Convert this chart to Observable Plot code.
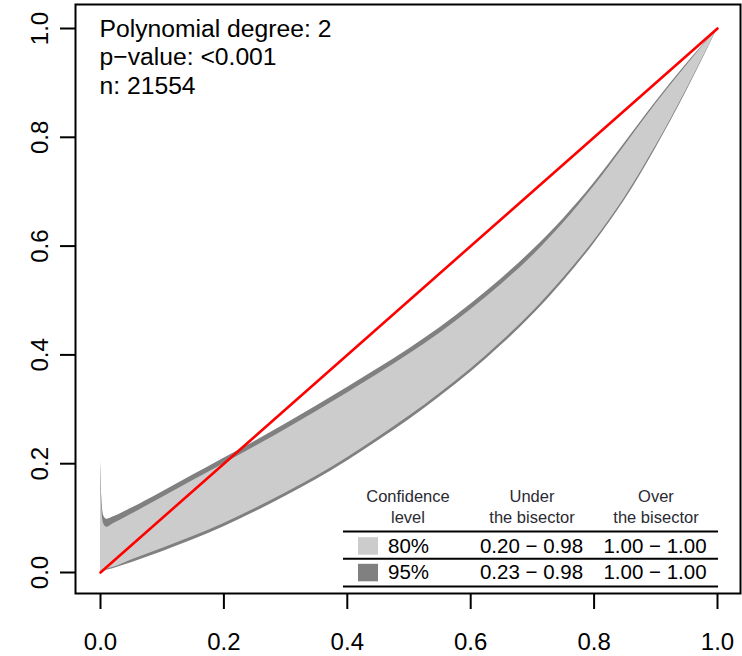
<!DOCTYPE html>
<html><head><meta charset="utf-8">
<script src="https://cdn.jsdelivr.net/npm/d3@7"></script>
<script src="https://cdn.jsdelivr.net/npm/@observablehq/plot@0.6"></script>
<style>body{margin:0;background:#fff} #chart svg{display:block}</style>
</head><body><div id="chart"></div>
<script>
// Band data (x = predicted, y = observed)
const xs   = [0, 0.002, 0.005, 0.01, 0.02, 0.05, 0.1, 0.15, 0.2, 0.25, 0.3, 0.35, 0.4, 0.45, 0.5, 0.55, 0.6, 0.65, 0.7, 0.75, 0.8, 0.85, 0.9, 0.95, 1.0];
const hi95 = [0.206, 0.140, 0.105, 0.098, 0.102, 0.118, 0.148, 0.179, 0.210, 0.241, 0.273, 0.306, 0.340, 0.375, 0.411, 0.450, 0.493, 0.540, 0.592, 0.650, 0.716, 0.790, 0.865, 0.935, 1.0];
const hi80 = [0.200, 0.120, 0.090, 0.083, 0.089, 0.107, 0.138, 0.169, 0.200, 0.231, 0.263, 0.296, 0.330, 0.365, 0.401, 0.440, 0.483, 0.530, 0.582, 0.642, 0.710, 0.785, 0.861, 0.932, 1.0];
const lo80 = [0.001, 0.003, 0.004, 0.006, 0.009, 0.023, 0.044, 0.066, 0.090, 0.117, 0.146, 0.177, 0.211, 0.248, 0.287, 0.329, 0.374, 0.424, 0.479, 0.541, 0.610, 0.690, 0.784, 0.888, 1.0];
const lo95 = [0, 0.001, 0.002, 0.004, 0.007, 0.018, 0.038, 0.060, 0.084, 0.111, 0.140, 0.171, 0.205, 0.242, 0.281, 0.323, 0.368, 0.418, 0.473, 0.535, 0.605, 0.685, 0.780, 0.885, 1.0];
// Bisector
const bisX = [0, 1];
const bisY = [0, 1];
// Ticks
const xTicks = [0, 0.2, 0.4, 0.6, 0.8, 1.0];
const yTicks = [0, 0.2, 0.4, 0.6, 0.8, 1.0];
// Annotation
const annotation = ["Polynomial degree: 2", "p\u2212value: <0.001", "n: 21554"];
// Legend table
const legendHeaders = [["Confidence", "level"], ["Under", "the bisector"], ["Over", "the bisector"]];
const legendLevels = ["80%", "95%"];
const legendUnder = ["0.20 \u2212 0.98", "0.23 \u2212 0.98"];
const legendOver = ["1.00 \u2212 1.00", "1.00 \u2212 1.00"];
const legendColors = ["#cccccc", "#808080"];

const rows = xs.map((x, i) => ({x, lo95: lo95[i], lo80: lo80[i], hi80: hi80[i], hi95: hi95[i]}));
const bis = bisX.map((x, i) => ({x, y: bisY[i]}));
const font = "'Liberation Sans', Arial, Helvetica, sans-serif";

const svg = Plot.plot({
  width: 742, height: 656,
  marginTop: 4, marginRight: 2, marginBottom: 63, marginLeft: 75,
  style: {fontFamily: font, background: "white", color: "black"},
  x: {domain: [0, 1], range: [100, 717]},
  y: {domain: [0, 1], range: [572, 28]},
  marks: [
    Plot.areaY(rows, {x: "x", y1: "lo95", y2: "hi95", fill: "#808080", curve: "monotone-x"}),
    Plot.areaY(rows, {x: "x", y1: "lo80", y2: "hi80", fill: "#cccccc", curve: "monotone-x"}),
    Plot.line(bis, {x: "x", y: "y", stroke: "#ff0000", strokeWidth: 2.6}),
    Plot.frame({stroke: "black", strokeWidth: 2}),
    Plot.axisX(xTicks, {tickSize: 16, tickPadding: 23, fontSize: 24, strokeWidth: 2, tickFormat: d => d.toFixed(1), label: null}),
    Plot.axisY(yTicks, {tickSize: 15, tickRotate: -90, tickPadding: 13, fontSize: 24, strokeWidth: 2, tickFormat: d => d.toFixed(1), label: null}),
    Plot.text([annotation.join("\n")], {frameAnchor: "top-left", dx: 24, dy: 11.5, lineAnchor: "top", lineHeight: 1.17, fontSize: 24.7, textAnchor: "start", fill: "black"})
  ]
});

// Legend table drawn inside the same SVG
const g = d3.select(svg).append("g").attr("font-family", font);
const colX = [408, 532, 656];
const ruleX = [343, 718];
const ruleYs = [531.5, 558.8, 586.5];
legendHeaders.forEach((lines, j) => {
  lines.forEach((t, k) => {
    g.append("text").attr("x", colX[j]).attr("y", 501.7 + k * 21.5)
      .attr("text-anchor", "middle").attr("font-size", 16.5).attr("fill", "#2a2a33").text(t);
  });
});
ruleYs.forEach(y => {
  g.append("line").attr("x1", ruleX[0]).attr("x2", ruleX[1]).attr("y1", y).attr("y2", y)
    .attr("stroke", "black").attr("stroke-width", 2);
});
legendLevels.forEach((lev, i) => {
  const base = 552.7 + i * 26.6;
  g.append("rect").attr("x", 358).attr("y", base - 15.5).attr("width", 20).attr("height", 17.5).attr("fill", legendColors[i]);
  g.append("text").attr("x", 388).attr("y", base).attr("text-anchor", "start").attr("font-size", 20.5).attr("fill", "black").text(lev);
  g.append("text").attr("x", 531.5).attr("y", base).attr("text-anchor", "middle").attr("font-size", 20.5).attr("fill", "black").text(legendUnder[i]);
  g.append("text").attr("x", 655).attr("y", base).attr("text-anchor", "middle").attr("font-size", 20.5).attr("fill", "black").text(legendOver[i]);
});

document.getElementById("chart").appendChild(svg);
</script>
</body></html>
